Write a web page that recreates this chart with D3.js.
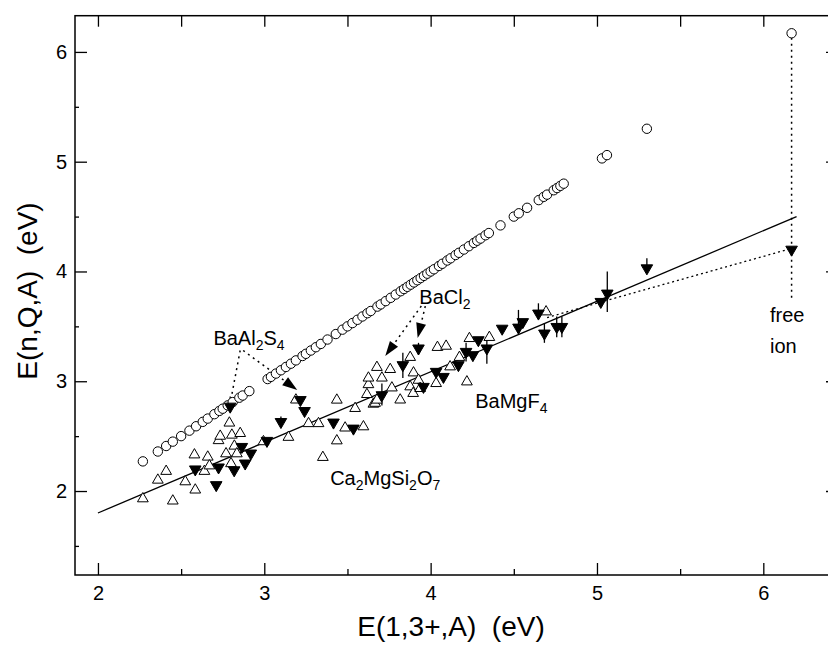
<!DOCTYPE html>
<html>
<head>
<meta charset="utf-8">
<script src="https://cdn.jsdelivr.net/npm/d3@7"></script>
<style>
  body { margin: 0; background: #fff; }
  svg { font-family: "Liberation Sans", Arial, sans-serif; }
</style>
</head>
<body>
<div id="chart"></div>
<script>
// free-ion energies (open circles): E(n,Q,A) against E(1,3+,A)
var circX = [2.27, 2.36, 2.41, 2.45, 2.50, 2.55, 2.59, 2.63, 2.66, 2.70, 2.73, 2.75, 2.78, 2.81, 2.85, 2.87, 2.91,
  3.02, 3.04, 3.07, 3.10, 3.13, 3.16, 3.19, 3.23, 3.25, 3.28, 3.31, 3.34, 3.38, 3.43, 3.47, 3.50, 3.53, 3.56,
  3.59, 3.62, 3.64, 3.68, 3.70, 3.73, 3.76, 3.79, 3.82, 3.84, 3.86, 3.88, 3.90, 3.92, 3.94, 3.96, 3.98, 4.00,
  4.02, 4.05, 4.07, 4.10, 4.12, 4.15, 4.17, 4.20, 4.23, 4.26, 4.28, 4.30, 4.33, 4.35, 4.42, 4.50, 4.53, 4.58,
  4.65, 4.68, 4.70, 4.74, 4.76, 4.78, 4.80, 5.03, 5.06, 5.30, 6.17];
var circY = [2.27, 2.36, 2.41, 2.45, 2.50, 2.55, 2.59, 2.63, 2.66, 2.70, 2.73, 2.75, 2.78, 2.81, 2.85, 2.87, 2.91,
  3.02, 3.04, 3.07, 3.10, 3.13, 3.16, 3.19, 3.23, 3.25, 3.28, 3.31, 3.34, 3.38, 3.43, 3.47, 3.50, 3.53, 3.56,
  3.59, 3.62, 3.64, 3.68, 3.70, 3.73, 3.76, 3.79, 3.82, 3.84, 3.86, 3.88, 3.90, 3.92, 3.94, 3.96, 3.98, 4.00,
  4.02, 4.05, 4.07, 4.10, 4.12, 4.15, 4.17, 4.20, 4.23, 4.26, 4.28, 4.30, 4.33, 4.35, 4.42, 4.50, 4.53, 4.58,
  4.65, 4.68, 4.70, 4.74, 4.76, 4.78, 4.80, 5.03, 5.06, 5.30, 6.17];

// open triangles
var triX = [2.27, 2.36, 2.41, 2.45, 2.525, 2.58, 2.585, 2.64, 2.66, 2.67, 2.725, 2.735, 2.77, 2.79, 2.80, 2.805,
  2.82, 2.835, 2.855, 2.995, 3.145, 3.19, 3.266, 3.326, 3.352, 3.436, 3.436, 3.486, 3.546, 3.596, 3.617, 3.626,
  3.626, 3.656, 3.666, 3.677, 3.677, 3.707, 3.757, 3.767, 3.817, 3.877, 3.877, 3.895, 3.897, 3.927, 3.937, 4.033,
  4.041, 4.093, 4.117, 4.173, 4.218, 4.233, 4.353, 4.694];
var triY = [1.93, 2.10, 2.18, 1.91, 2.085, 2.33, 2.01, 2.18, 2.31, 2.23, 2.46, 2.50, 2.34, 2.62, 2.25, 2.51,
  2.41, 2.34, 2.525, 2.45, 2.49, 2.83, 2.615, 2.615, 2.307, 2.458, 2.829, 2.575, 2.753, 2.586, 2.88, 2.97,
  3.03, 2.792, 2.80, 2.829, 3.127, 3.03, 3.108, 2.94, 2.83, 3.218, 2.95, 2.89, 3.077, 3.01, 2.935, 2.98,
  3.309, 3.32, 3.132, 3.218, 2.995, 3.39, 3.40, 3.633];

// filled (down) triangles
var dotX = [2.585, 2.711, 2.725, 2.795, 2.819, 2.865, 2.885, 2.919, 3.016, 3.10, 3.217, 3.242, 3.416, 3.536,
  3.707, 3.833, 3.927, 3.957, 4.033, 4.077, 4.167, 4.213, 4.254, 4.287, 4.338, 4.43, 4.528, 4.554, 4.648,
  4.684, 4.758, 4.789, 5.023, 5.062, 5.30, 6.17];
var dotY = [2.198, 2.055, 2.216, 2.77, 2.19, 2.403, 2.252, 2.343, 2.458, 2.63, 2.83, 2.73, 2.625, 2.57,
  2.874, 3.148, 3.30, 2.95, 3.087, 3.041, 3.148, 3.269, 3.239, 3.375, 3.30, 3.48, 3.49, 3.54, 3.618,
  3.436, 3.496, 3.496, 3.724, 3.80, 4.03, 4.20];

// vertical bars on some filled triangles
var barX  = [2.795, 3.10, 3.707, 3.833, 3.927, 4.213, 4.338, 4.528, 4.648, 4.684, 4.758, 4.789, 5.062, 5.30];
var barLo = [2.77, 2.58, 2.78, 3.03, 3.24, 3.18, 3.16, 3.44, 3.57, 3.35, 3.40, 3.40, 3.63, 4.03];
var barHi = [2.86, 2.68, 2.98, 3.26, 3.35, 3.35, 3.41, 3.65, 3.71, 3.53, 3.59, 3.59, 4.00, 4.12];

// fitted line, dotted trend and free-ion drop line
var fitX = [2.0, 6.2], fitY = [1.8, 4.5];
var trendX = [4.70, 5.02, 6.17], trendY = [3.58, 3.72, 4.21];
var dropX = [6.17, 6.17], dropY = [6.13, 3.75];

var xMajor = [2, 3, 4, 5, 6], xMinor = [2.5, 3.5, 4.5, 5.5];
var yMajor = [2, 3, 4, 5, 6], yMinor = [1.5, 2.5, 3.5, 4.5, 5.5];

var width = 828, height = 645;
var svg = d3.select('#chart').append('svg')
  .attr('width', width)
  .attr('height', height);

var x = d3.scaleLinear().domain([1.862, 6.449]).range([75, 838]),
    y = d3.scaleLinear().domain([1.235, 6.33]).range([575, 15.7]);

function ticks(g) {
  g.select('.domain').remove();
  g.selectAll('line').attr('stroke', '#000').attr('stroke-width', 1.3);
  g.selectAll('text').attr('fill', '#000').style('font-size', '20px')
    .style('font-family', '"Liberation Sans", Arial, sans-serif');
}

svg.append('g').attr('transform', 'translate(0,575)')
  .call(d3.axisBottom(x).tickValues(xMajor).tickSizeInner(-12).tickSizeOuter(0).tickPadding(11)
    .tickFormat(d3.format('d'))).call(ticks);
svg.append('g').attr('transform', 'translate(0,575)')
  .call(d3.axisBottom(x).tickValues(xMinor).tickSizeInner(-6).tickSizeOuter(0).tickFormat('')).call(ticks);
svg.append('g').attr('transform', 'translate(0,15.7)')
  .call(d3.axisTop(x).tickValues(xMajor.concat(xMinor)).tickSizeInner(-11).tickSizeOuter(0).tickFormat('')).call(ticks);
svg.append('g').attr('transform', 'translate(75,0)')
  .call(d3.axisLeft(y).tickValues(yMajor).tickSizeInner(-12).tickSizeOuter(0).tickPadding(8)
    .tickFormat(d3.format('d'))).call(ticks);
svg.append('g').attr('transform', 'translate(75,0)')
  .call(d3.axisLeft(y).tickValues(yMinor).tickSizeInner(-4).tickSizeOuter(0).tickFormat('')).call(ticks);
svg.append('g').attr('transform', 'translate(838,0)')
  .call(d3.axisRight(y).tickValues(yMajor).tickSizeInner(-12).tickSizeOuter(0).tickFormat('')).call(ticks);

svg.append('rect')
  .attr('x', x.range()[0]).attr('y', y.range()[1])
  .attr('width', x.range()[1] - x.range()[0])
  .attr('height', y.range()[0] - y.range()[1])
  .attr('fill', 'none').attr('stroke', '#000').attr('stroke-width', 1.5);

// axis titles
svg.append('text')
  .attr('x', 451).attr('y', 636)
  .attr('text-anchor', 'middle')
  .style('font-size', '28px')
  .attr('xml:space', 'preserve')
  .text('E(1,3+,A)  (eV)');
svg.append('text')
  .attr('transform', 'translate(37,291) rotate(-90)')
  .attr('text-anchor', 'middle')
  .style('font-size', '28px')
  .attr('xml:space', 'preserve')
  .text('E(n,Q,A)  (eV)');

function pts(xs, ys) { return xs.map(function(v, i) { return [v, ys[i]]; }); }
var line = d3.line().x(function(d) { return x(d[0]); }).y(function(d) { return y(d[1]); });

svg.append('path').datum(pts(fitX, fitY)).attr('d', line)
  .attr('fill', 'none').attr('stroke', '#000').attr('stroke-width', 1.3);
svg.append('path').datum(pts(trendX, trendY)).attr('d', line)
  .attr('fill', 'none').attr('stroke', '#000').attr('stroke-width', 1.3).attr('stroke-dasharray', '2,3');
svg.append('path').datum(pts(dropX, dropY)).attr('d', line)
  .attr('fill', 'none').attr('stroke', '#000').attr('stroke-width', 1.5).attr('stroke-dasharray', '2,4');

// annotation leaders from the labels to the points
var leadX0 = [2.855, 2.873, 3.944, 3.968];
var leadY0 = [3.28, 3.28, 3.685, 3.685];
var leadX1 = [2.80, 3.198, 3.727, 3.922];
var leadY1 = [2.84, 2.92, 3.23, 3.393];
var leadHead = [false, true, true, true];

leadX0.forEach(function(v, i) {
  var x0 = x(v), y0 = y(leadY0[i]), x1 = x(leadX1[i]), y1 = y(leadY1[i]);
  var dx = x1 - x0, dy = y1 - y0, len = Math.sqrt(dx * dx + dy * dy);
  var ux = dx / len, uy = dy / len, hl = leadHead[i] ? 15 : 0;
  svg.append('line')
    .attr('x1', x0).attr('y1', y0).attr('x2', x1 - ux * hl).attr('y2', y1 - uy * hl)
    .attr('stroke', '#000').attr('stroke-width', 1.5).attr('stroke-dasharray', '2,4');
  if (leadHead[i]) {
    var bx = x1 - ux * hl, by = y1 - uy * hl;
    svg.append('path')
      .attr('d', 'M' + x1 + ',' + y1 + 'L' + (bx - uy * 5) + ',' + (by + ux * 5) +
        'L' + (bx + uy * 5) + ',' + (by - ux * 5) + 'Z')
      .attr('fill', '#000');
  }
});

// error bars
svg.selectAll('.bar').data(barX).enter().append('line')
  .attr('x1', function(d) { return x(d); }).attr('x2', function(d) { return x(d); })
  .attr('y1', function(d, i) { return y(barLo[i]); })
  .attr('y2', function(d, i) { return y(barHi[i]); })
  .attr('stroke', '#000').attr('stroke-width', 1.3);

// open circles
svg.selectAll('.circ').data(pts(circX, circY)).enter().append('circle')
  .attr('cx', function(d) { return x(d[0]); })
  .attr('cy', function(d) { return y(d[1]); })
  .attr('r', 4.7)
  .attr('fill', '#fff').attr('stroke', '#000').attr('stroke-width', 1);

// open triangles
var up = d3.symbol().type(d3.symbolTriangle).size(50);
var down = d3.symbol().type(d3.symbolTriangle).size(58);
svg.selectAll('.tri').data(pts(triX, triY)).enter().append('path')
  .attr('d', up)
  .attr('transform', function(d) { return 'translate(' + x(d[0]) + ',' + y(d[1]) + ')'; })
  .attr('fill', '#fff').attr('stroke', '#000').attr('stroke-width', 1);

// filled down triangles
svg.selectAll('.dtri').data(pts(dotX, dotY)).enter().append('path')
  .attr('d', down)
  .attr('transform', function(d) { return 'translate(' + x(d[0]) + ',' + y(d[1]) + ') rotate(180)'; })
  .attr('fill', '#000').attr('stroke', '#000').attr('stroke-width', 1);

// labels, split into normal and subscript parts
var labX = [2.694, 3.932, 4.268, 3.396, 6.04, 6.04];
var labY = [3.33, 3.70, 2.756, 2.055, 3.54, 3.257];
var labParts = [
  [['BaAl', 0], ['2', 1], ['S', 0], ['4', 1]],
  [['BaCl', 0], ['2', 1]],
  [['BaMgF', 0], ['4', 1]],
  [['Ca', 0], ['2', 1], ['MgSi', 0], ['2', 1], ['O', 0], ['7', 1]],
  [['free', 0]],
  [['ion', 0]]
];

labX.forEach(function(v, i) {
  var t = svg.append('text')
    .attr('x', x(v)).attr('y', y(labY[i]))
    .style('font-size', '20px');
  var shift = 0;
  labParts[i].forEach(function(p) {
    var d = p[1] ? 5 - shift : -shift;
    shift = p[1] ? 5 : 0;
    t.append('tspan').attr('dy', d).style('font-size', p[1] ? '14px' : '20px').text(p[0]);
  });
});
</script>
</body>
</html>
